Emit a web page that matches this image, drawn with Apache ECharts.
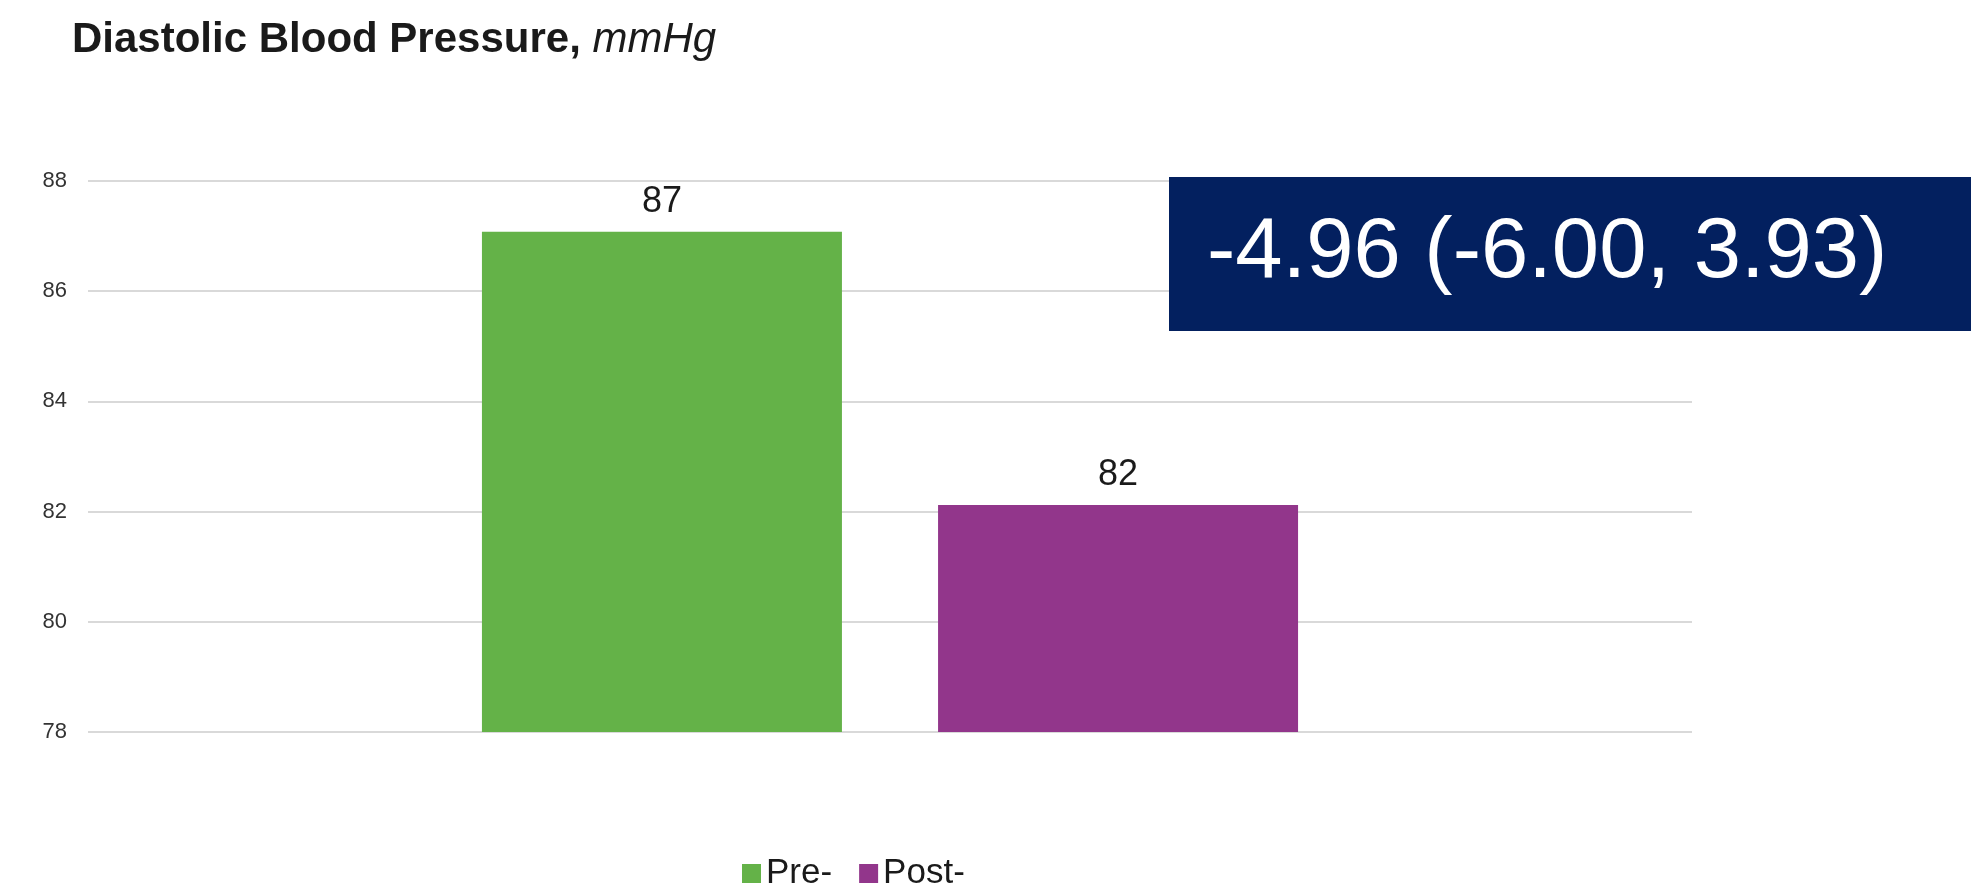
<!DOCTYPE html>
<html>
<head>
<meta charset="utf-8">
<script src="https://cdn.jsdelivr.net/npm/echarts@6/dist/echarts.min.js"></script>
<style>
  html, body { margin: 0; padding: 0; background: #ffffff; }
  #chart { width: 1978px; height: 892px; }
</style>
</head>
<body>
<div id="chart"></div>
<script>
// Diastolic blood pressure before and after, mmHg
const categories = ['Diastolic'];
const seriesNames = ['Pre-', 'Post-'];
const preValues = [87.08];
const postValues = [82.12];
const yTicks = { min: 78, max: 88, interval: 2 };
const changeText = '-4.96 (-6.00, 3.93)';

const FONT = '"Liberation Sans", Arial, Helvetica, sans-serif';
const GREEN = '#64b248';
const PURPLE = '#92368b';
const NAVY = '#03205f';

const chart = echarts.init(document.getElementById('chart'), null, { renderer: 'canvas' });

const barLabel = {
  show: true,
  position: 'top',
  distance: 12,
  fontFamily: FONT,
  fontSize: 36,
  color: '#1a1a1a',
  formatter: p => Math.round(p.value)
};

chart.setOption({
  animation: false,
  backgroundColor: '#ffffff',
  title: {
    left: 67,
    top: 14,
    text: '{b|Diastolic Blood Pressure, }{i|mmHg}',
    textStyle: {
      rich: {
        b: { fontFamily: FONT, fontSize: 42, fontWeight: 'bold', color: '#1a1a1a' },
        i: { fontFamily: FONT, fontSize: 42, fontWeight: 'normal', fontStyle: 'italic', color: '#1a1a1a' }
      }
    }
  },
  legend: {
    left: 737,
    top: 851,
    itemWidth: 19,
    itemHeight: 19,
    itemGap: 27,
    icon: 'rect',
    textStyle: { fontFamily: FONT, fontSize: 35, color: '#1a1a1a' },
    data: seriesNames
  },
  grid: { left: 88, right: 286, top: 181, bottom: 160, containLabel: false },
  xAxis: {
    type: 'category',
    data: categories,
    axisLine: { show: false },
    axisTick: { show: false },
    axisLabel: { show: false }
  },
  yAxis: {
    type: 'value',
    min: yTicks.min,
    max: yTicks.max,
    interval: yTicks.interval,
    axisLine: { show: false },
    axisTick: { show: false },
    axisLabel: { fontFamily: FONT, fontSize: 22, color: '#333333', margin: 21 },
    splitLine: { lineStyle: { color: '#d9d9d9', width: 2 } }
  },
  series: [
    {
      name: seriesNames[0],
      type: 'bar',
      data: preValues,
      barWidth: 360,
      barGap: '26.7%',
      itemStyle: { color: GREEN },
      label: barLabel
    },
    {
      name: seriesNames[1],
      type: 'bar',
      data: postValues,
      barWidth: 360,
      itemStyle: { color: PURPLE },
      label: barLabel
    }
  ],
  graphic: [
    {
      type: 'group',
      left: 1169,
      top: 177,
      z: 100,
      children: [
        { type: 'rect', z: 100, shape: { x: 0, y: 0, width: 802, height: 154 }, style: { fill: NAVY } },
        {
          type: 'text',
          z: 101,
          x: 38,
          y: 77,
          style: {
            text: changeText,
            fontFamily: FONT,
            fontSize: 85,
            fill: '#ffffff',
            verticalAlign: 'middle'
          }
        }
      ]
    }
  ]
});
</script>
</body>
</html>
